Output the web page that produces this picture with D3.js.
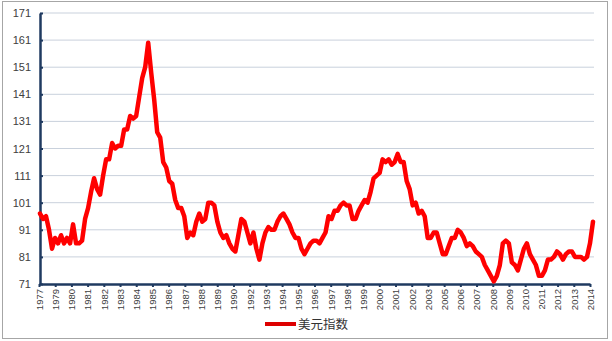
<!DOCTYPE html>
<html>
<head>
<meta charset="utf-8">
<script src="https://cdn.jsdelivr.net/npm/d3@7"></script>
<style>
  body { margin: 0; background: #fff; }
  svg text { font-family: "Liberation Sans", Arial, sans-serif; }
</style>
</head>
<body>
<div class="d3"></div>
<script>
'use strict';

var usdx = [
  97, 95, 96, 91, 84, 88, 86, 89, 86, 88,
  86, 93, 86, 86, 87, 95, 99, 105, 110, 106,
  104, 111, 117, 117, 123, 121, 122, 122, 128, 128,
  133, 132, 133, 140, 147, 151, 160, 149, 139, 127,
  125, 116, 114, 109, 108, 102, 99, 99, 96, 88,
  90, 89, 94, 97, 94, 95, 101, 101, 100, 94,
  90, 88, 89, 86, 84, 83, 89, 95, 94, 90,
  86, 90, 84, 80, 86, 90, 92, 91, 91, 94,
  96, 97, 95, 93, 90, 88, 88, 84, 82, 84,
  86, 87, 87, 86, 88, 90, 96, 95, 98, 98,
  100, 101, 100, 100, 95, 95, 98, 100, 102, 101,
  105, 110, 111, 112, 117, 116, 117, 115, 116, 119,
  116, 116, 109, 106, 100, 101, 97, 98, 96, 88,
  88, 90, 90, 86, 82, 82, 85, 88, 88, 91,
  90, 88, 85, 86, 85, 83, 82, 81, 78, 76,
  74, 72, 74, 78, 86, 87, 86, 79, 78, 76,
  80, 84, 86, 82, 80, 78, 74, 74, 76, 80,
  80, 81, 83, 82, 80, 82, 83, 83, 81, 81,
  81, 80, 81, 86, 94
];

var yearLabels = ['1977', '1979', '1980', '1981', '1982', '1983', '1984', '1985',
  '1986', '1987', '1988', '1989', '1990', '1992', '1993', '1994', '1995', '1996',
  '1997', '1998', '1999', '2000', '2001', '2002', '2003', '2005', '2006', '2007',
  '2008', '2009', '2010', '2011', '2012', '2013', '2014'];

var yTicks = [71, 81, 91, 101, 111, 121, 131, 141, 151, 161, 171];

var seriesName = '美元指数';

var W = 612, H = 341;
var plotLeft = 40, plotRight = 593, plotTop = 13, plotBottom = 284;

var svg = d3.select('.d3')
  .append('svg')
  .attr('width', W)
  .attr('height', H);

svg.append('rect')
  .attr('x', 2.5)
  .attr('y', 1.5)
  .attr('width', 605)
  .attr('height', 337)
  .attr('fill', '#fff')
  .attr('stroke', '#a6a6a6');

var x = d3.scaleLinear().domain([0, usdx.length - 1]).range([plotLeft, plotRight]);
var xLab = d3.scalePoint().domain(yearLabels).range([39, 590]);
var y = d3.scaleLinear().domain([71, 171]).range([plotBottom, plotTop]);

// gridlines
svg.append('g')
  .selectAll('line')
  .data(yTicks.slice(1))
  .enter().append('line')
  .attr('x1', plotLeft)
  .attr('x2', 594)
  .attr('y1', function(d){ return y(d); })
  .attr('y2', function(d){ return y(d); })
  .attr('stroke', '#c9d1dc')
  .attr('stroke-width', 1);

// y axis
var yAxis = svg.append('g')
  .attr('transform', 'translate(' + plotLeft + ',0)')
  .call(d3.axisLeft(y).tickValues(yTicks).tickSizeInner(-3).tickSizeOuter(0).tickPadding(9));

yAxis.select('.domain').attr('stroke', '#1f3a60').attr('stroke-width', 2.5);
yAxis.selectAll('.tick line').attr('stroke', '#1f3a60').attr('stroke-width', 2);
yAxis.selectAll('.tick text')
  .attr('fill', '#404040')
  .style('font-size', '11px');

// x axis
var xAxis = svg.append('g')
  .attr('transform', 'translate(0,' + plotBottom + ')')
  .call(d3.axisBottom(xLab).tickSizeInner(3).tickSizeOuter(0));

xAxis.select('.domain').attr('stroke', '#1f3a60').attr('stroke-width', 2.5);
xAxis.selectAll('.tick line').attr('stroke', '#1f3a60').attr('stroke-width', 2);
xAxis.selectAll('.tick text')
  .attr('transform', 'rotate(-90)')
  .attr('x', -5)
  .attr('y', 0)
  .attr('dy', '0.35em')
  .style('text-anchor', 'end')
  .style('font-size', '9.5px')
  .attr('fill', '#404040');

// the series
var line = d3.line()
  .x(function(d, i){ return x(i); })
  .y(function(d){ return y(d); });

svg.append('path')
  .datum(usdx)
  .attr('d', line)
  .attr('fill', 'none')
  .attr('stroke', '#ff0000')
  .attr('stroke-width', 4.5)
  .attr('stroke-linejoin', 'round')
  .attr('stroke-linecap', 'round');

// legend
var legend = svg.append('g').attr('transform', 'translate(265,324)');
legend.append('line')
  .attr('x1', 0).attr('x2', 31)
  .attr('stroke', '#dd0000')
  .attr('stroke-width', 4);
legend.append('text')
  .attr('x', 33)
  .attr('dy', '0.38em')
  .style('font-family', '"Noto Sans CJK SC", sans-serif')
  .style('font-size', '12.5px')
  .attr('fill', '#333')
  .text(seriesName);
</script>
</body>
</html>
